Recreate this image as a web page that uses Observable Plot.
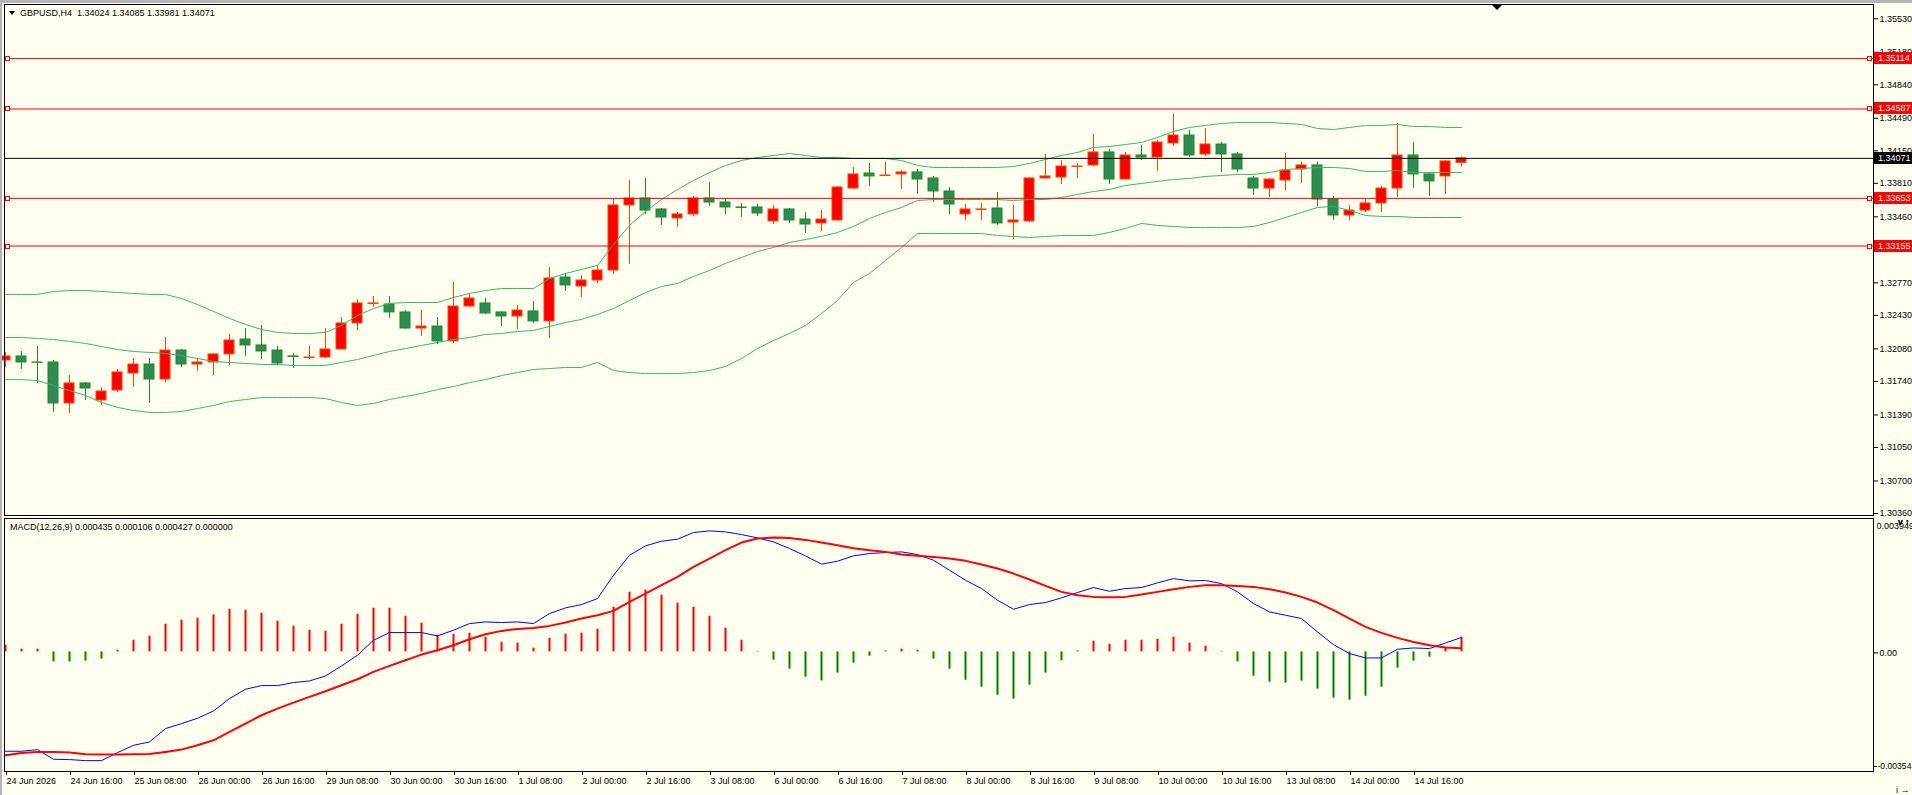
<!DOCTYPE html>
<html><head><meta charset="utf-8">
<script src="https://cdn.jsdelivr.net/npm/d3@7"></script>
<script src="https://cdn.jsdelivr.net/npm/@observablehq/plot@0.6"></script>
<style>
html,body{margin:0;padding:0;background:#fffff0;}
#chart{position:relative;width:1912px;height:795px;overflow:hidden;background:#fffff0;font-family:"Liberation Sans",Arial,sans-serif;}
#chart svg{position:absolute;left:0;}
.hdr{position:absolute;font-size:9px;line-height:12px;color:#000;white-space:pre;}
.tri{position:absolute;width:0;height:0;border-left:3px solid transparent;border-right:3px solid transparent;border-top:4px solid #000;}
</style></head><body><div id="chart"></div>
<script>
// ---- data (GBPUSD H4) ----
const open = [1.31959,1.32001,1.31938,1.31938,1.31510,1.31719,1.31541,1.31645,1.31823,1.31917,1.31760,1.32063,1.31917,1.31938,1.32022,1.32178,1.32116,1.32063,1.32001,1.31985,1.31990,1.32074,1.32346,1.32550,1.32544,1.32461,1.32293,1.32314,1.32158,1.32523,1.32555,1.32461,1.32419,1.32471,1.32367,1.32826,1.32732,1.32795,1.32899,1.33579,1.33652,1.33537,1.33443,1.33485,1.33652,1.33610,1.33558,1.33558,1.33412,1.33537,1.33432,1.33391,1.33422,1.33756,1.33913,1.33887,1.33903,1.33924,1.33861,1.33725,1.33485,1.33532,1.33547,1.33401,1.33412,1.33861,1.33871,1.33981,1.33997,1.34133,1.33850,1.34101,1.34080,1.34227,1.34310,1.34112,1.34216,1.34112,1.33861,1.33756,1.33840,1.33955,1.33997,1.33641,1.33474,1.33526,1.33600,1.33756,1.34101,1.33903,1.33882,1.34024];
const high = [1.32043,1.32053,1.32105,1.31959,1.31802,1.31729,1.31677,1.31865,1.31980,1.31980,1.32199,1.32074,1.31980,1.32032,1.32231,1.32293,1.32325,1.32105,1.32032,1.32105,1.32293,1.32408,1.32596,1.32628,1.32628,1.32481,1.32481,1.32408,1.32774,1.32659,1.32607,1.32466,1.32534,1.32576,1.32931,1.32868,1.32847,1.32952,1.33641,1.33840,1.33861,1.33547,1.33506,1.33673,1.33819,1.33652,1.33600,1.33589,1.33579,1.33547,1.33506,1.33526,1.33777,1.33976,1.34018,1.34028,1.33944,1.33955,1.33882,1.33767,1.33589,1.33600,1.33715,1.33579,1.33871,1.34112,1.34049,1.34018,1.34321,1.34164,1.34133,1.34206,1.34258,1.34530,1.34362,1.34383,1.34237,1.34133,1.33882,1.33861,1.34122,1.34028,1.34028,1.33673,1.33579,1.33652,1.33777,1.34436,1.34237,1.33913,1.34049,1.34085];
const low = [1.31886,1.31865,1.31719,1.31416,1.31405,1.31541,1.31489,1.31625,1.31677,1.31510,1.31729,1.31886,1.31844,1.31802,1.31907,1.32001,1.31969,1.31907,1.31875,1.31969,1.31980,1.32074,1.32272,1.32513,1.32398,1.32288,1.32210,1.32126,1.32137,1.32513,1.32440,1.32314,1.32283,1.32346,1.32189,1.32680,1.32617,1.32764,1.32858,1.32962,1.33485,1.33370,1.33349,1.33464,1.33568,1.33485,1.33453,1.33464,1.33380,1.33391,1.33286,1.33307,1.33412,1.33746,1.33777,1.33882,1.33746,1.33694,1.33610,1.33485,1.33422,1.33422,1.33370,1.33223,1.33401,1.33855,1.33798,1.33861,1.33986,1.33798,1.33845,1.34049,1.33934,1.34195,1.34080,1.34091,1.33924,1.33924,1.33683,1.33662,1.33735,1.33809,1.33568,1.33422,1.33422,1.33506,1.33506,1.33662,1.33756,1.33673,1.33694,1.33981];
const close = [1.32001,1.31938,1.31935,1.31510,1.31719,1.31666,1.31635,1.31834,1.31917,1.31760,1.32063,1.31917,1.31938,1.32022,1.32168,1.32116,1.32053,1.31928,1.31996,1.31990,1.32074,1.32346,1.32555,1.32555,1.32461,1.32293,1.32314,1.32158,1.32523,1.32607,1.32450,1.32419,1.32481,1.32367,1.32816,1.32743,1.32795,1.32899,1.33579,1.33652,1.33526,1.33453,1.33485,1.33652,1.33610,1.33558,1.33553,1.33495,1.33537,1.33422,1.33380,1.33432,1.33767,1.33903,1.33882,1.33892,1.33924,1.33850,1.33725,1.33589,1.33537,1.33537,1.33391,1.33422,1.33861,1.33882,1.33986,1.33986,1.34133,1.33850,1.34101,1.34080,1.34237,1.34310,1.34101,1.34216,1.34112,1.33955,1.33756,1.33850,1.33944,1.33997,1.33641,1.33474,1.33526,1.33600,1.33756,1.34101,1.33903,1.33830,1.34039,1.34071];

const bbUpper = [1.32649,1.32649,1.32649,1.32680,1.32690,1.32690,1.32680,1.32669,1.32659,1.32649,1.32649,1.32607,1.32544,1.32471,1.32398,1.32335,1.32283,1.32252,1.32241,1.32241,1.32252,1.32325,1.32429,1.32502,1.32555,1.32565,1.32565,1.32565,1.32617,1.32659,1.32690,1.32711,1.32711,1.32711,1.32816,1.32868,1.32910,1.32952,1.33171,1.33370,1.33516,1.33641,1.33746,1.33840,1.33923,1.33997,1.34049,1.34080,1.34101,1.34122,1.34101,1.34080,1.34080,1.34070,1.34070,1.34070,1.34049,1.33997,1.33976,1.33976,1.33976,1.33976,1.33976,1.33986,1.34018,1.34059,1.34101,1.34133,1.34185,1.34195,1.34216,1.34237,1.34289,1.34352,1.34394,1.34415,1.34436,1.34446,1.34446,1.34446,1.34436,1.34425,1.34383,1.34373,1.34394,1.34415,1.34415,1.34425,1.34404,1.34404,1.34394,1.34394];
const bbMiddle = [1.32199,1.32199,1.32189,1.32178,1.32158,1.32137,1.32105,1.32074,1.32053,1.32043,1.32032,1.32011,1.31980,1.31949,1.31938,1.31928,1.31917,1.31917,1.31907,1.31907,1.31907,1.31938,1.31969,1.32011,1.32053,1.32084,1.32116,1.32147,1.32178,1.32199,1.32231,1.32241,1.32262,1.32273,1.32314,1.32356,1.32388,1.32440,1.32502,1.32586,1.32669,1.32732,1.32764,1.32837,1.32899,1.32973,1.33035,1.33098,1.33140,1.33192,1.33223,1.33255,1.33297,1.33359,1.33443,1.33506,1.33558,1.33631,1.33641,1.33641,1.33641,1.33641,1.33641,1.33631,1.33641,1.33641,1.33662,1.33694,1.33725,1.33746,1.33788,1.33809,1.33830,1.33850,1.33861,1.33882,1.33892,1.33903,1.33903,1.33923,1.33955,1.33965,1.33976,1.33976,1.33965,1.33934,1.33934,1.33944,1.33923,1.33923,1.33923,1.33923];
const bbLower = [1.31759,1.31759,1.31749,1.31697,1.31645,1.31593,1.31520,1.31468,1.31437,1.31416,1.31416,1.31426,1.31457,1.31489,1.31530,1.31551,1.31572,1.31572,1.31572,1.31572,1.31562,1.31520,1.31489,1.31510,1.31551,1.31583,1.31614,1.31655,1.31686,1.31728,1.31759,1.31801,1.31833,1.31865,1.31875,1.31886,1.31886,1.31938,1.31854,1.31833,1.31822,1.31822,1.31822,1.31833,1.31854,1.31896,1.31980,1.32084,1.32168,1.32241,1.32325,1.32450,1.32586,1.32774,1.32868,1.33004,1.33140,1.33286,1.33286,1.33286,1.33286,1.33286,1.33265,1.33255,1.33244,1.33255,1.33265,1.33265,1.33265,1.33297,1.33338,1.33391,1.33370,1.33359,1.33349,1.33349,1.33349,1.33349,1.33359,1.33401,1.33453,1.33506,1.33558,1.33568,1.33527,1.33474,1.33464,1.33464,1.33453,1.33453,1.33453,1.33453];

const macdMain = [-0.002941,-0.002941,-0.002892,-0.003178,-0.003188,-0.003218,-0.003218,-0.002981,-0.002764,-0.002665,-0.002270,-0.002122,-0.001964,-0.001747,-0.001382,-0.001105,-0.000997,-0.000997,-0.000908,-0.000859,-0.000711,-0.000415,-0.000099,0.000345,0.000572,0.000572,0.000572,0.000474,0.000642,0.000839,0.000888,0.000869,0.000888,0.000839,0.001135,0.001303,0.001402,0.001579,0.002270,0.002862,0.003139,0.003277,0.003336,0.003533,0.003583,0.003553,0.003474,0.003375,0.003257,0.003060,0.002843,0.002596,0.002685,0.002843,0.002912,0.002941,0.002961,0.002882,0.002714,0.002418,0.002122,0.001875,0.001530,0.001263,0.001402,0.001461,0.001599,0.001757,0.001905,0.001796,0.001875,0.001905,0.002043,0.002171,0.002102,0.002112,0.002023,0.001777,0.001431,0.001184,0.001086,0.000987,0.000592,0.000217,-0.000049,-0.000178,-0.000178,0.000079,0.000118,0.000099,0.000266,0.000427];
const macdSignal = [-0.003060,-0.002991,-0.002961,-0.002961,-0.002981,-0.003030,-0.003040,-0.003040,-0.003030,-0.003020,-0.002961,-0.002892,-0.002764,-0.002616,-0.002369,-0.002122,-0.001875,-0.001678,-0.001500,-0.001332,-0.001165,-0.000987,-0.000809,-0.000592,-0.000415,-0.000247,-0.000079,0.000049,0.000197,0.000375,0.000523,0.000622,0.000681,0.000711,0.000770,0.000869,0.000987,0.001086,0.001214,0.001481,0.001727,0.001974,0.002221,0.002517,0.002764,0.003010,0.003237,0.003356,0.003385,0.003375,0.003316,0.003237,0.003158,0.003070,0.003010,0.002961,0.002882,0.002843,0.002813,0.002764,0.002695,0.002586,0.002468,0.002319,0.002142,0.001954,0.001777,0.001678,0.001629,0.001619,0.001629,0.001698,0.001777,0.001856,0.001925,0.001974,0.001974,0.001954,0.001925,0.001856,0.001757,0.001629,0.001461,0.001234,0.000987,0.000740,0.000563,0.000415,0.000296,0.000197,0.000128,0.000106];
const macdHist = [0.000198,0.000080,0.000080,-0.000296,-0.000296,-0.000275,-0.000216,0.000050,0.000346,0.000465,0.000820,0.000938,0.000998,0.001095,0.001264,0.001234,0.001146,0.000909,0.000761,0.000642,0.000613,0.000820,0.001116,0.001294,0.001294,0.001057,0.000850,0.000494,0.000524,0.000554,0.000435,0.000287,0.000258,0.000110,0.000406,0.000524,0.000554,0.000672,0.001323,0.001767,0.001826,0.001678,0.001442,0.001323,0.001057,0.000702,0.000346,0.000015,-0.000246,-0.000512,-0.000749,-0.000858,-0.000630,-0.000334,-0.000127,0.000030,0.000080,0.000050,-0.000216,-0.000512,-0.000838,-0.001045,-0.001282,-0.001400,-0.000986,-0.000630,-0.000266,0.000030,0.000317,0.000228,0.000346,0.000346,0.000376,0.000435,0.000258,0.000169,0.000015,-0.000296,-0.000719,-0.000897,-0.000926,-0.000867,-0.001104,-0.001370,-0.001430,-0.001311,-0.001045,-0.000482,-0.000275,-0.000157,0.000139,0.000435];

const levelPrices = [1.35114, 1.34587, 1.33653, 1.33155];
const priceTicks = [1.35530,1.35180,1.34840,1.34490,1.34150,1.33810,1.33460,1.33120,1.32770,1.32430,1.32080,1.31740,1.31390,1.31050,1.30700,1.30360];
const macdAxisValues = [0.003949, 0, -0.00354];
const macdAxisLabels = ["0.003949", "0.00", "-0.00354"];
const tickBars = [0,4,8,12,16,20,24,28,32,36,40,44,48,52,56,60,64,68,72,76,80,84,88];
const tickLabels = ["24 Jun 2026","24 Jun 16:00","25 Jun 08:00","26 Jun 00:00","26 Jun 16:00","29 Jun 08:00","30 Jun 00:00","30 Jun 16:00","1 Jul 08:00","2 Jul 00:00","2 Jul 16:00","3 Jul 08:00","6 Jul 00:00","6 Jul 16:00","7 Jul 08:00","8 Jul 00:00","8 Jul 16:00","9 Jul 08:00","10 Jul 00:00","10 Jul 16:00","13 Jul 08:00","14 Jul 00:00","14 Jul 16:00"];
const symbolName = "GBPUSD,H4";
const macdName = "MACD(12,26,9)";
const chartShiftBar = 93.25;

// ---- layout / style ----
const W = 1912;
const FONT = "'Liberation Sans', Arial, sans-serif";
const n = open.length;
const xDomain = [-0.0625, 116.75];
const bullFill = "#ff0000", bullStroke = "#ff4500", bearFill = "#2e8b57", bearStroke = "#1e8a1e";
const bandColor = "#3cb371";
const baseStyle = {background: "transparent", fontFamily: FONT, fontSize: "9px", color: "#000", overflow: "visible"};

const bars = open.map((o, i) => ({i, o, h: high[i], l: low[i], c: close[i], up: close[i] >= o}));
const idx = (d, i) => i;
const val = d => d;

const topPlot = Plot.plot({
  width: W, height: 517,
  marginTop: 4, marginRight: 39, marginBottom: 2, marginLeft: 4,
  x: {domain: xDomain, axis: null},
  y: {domain: [1.30339, 1.35679], axis: null},
  style: baseStyle,
  marks: [
    Plot.ruleX(bars, {x: "i", y1: "l", y2: "h", stroke: d => d.up ? bullStroke : bearStroke, strokeWidth: 1}),
    Plot.rect(bars, {x1: d => d.i - 0.3125, x2: d => d.i + 0.3125, y1: "o", y2: "c", fill: d => d.up ? bullFill : bearFill, stroke: d => d.up ? bullStroke : bearStroke, strokeWidth: 1}),
    Plot.line(bbUpper, {x: idx, y: val, stroke: bandColor, strokeWidth: 1}),
    Plot.line(bbMiddle, {x: idx, y: val, stroke: bandColor, strokeWidth: 1}),
    Plot.line(bbLower, {x: idx, y: val, stroke: bandColor, strokeWidth: 1}),
    Plot.ruleY(levelPrices, {stroke: "#ff0000", strokeWidth: 1}),
    Plot.ruleY([close[n - 1]], {stroke: "#000", strokeWidth: 1}),
    Plot.axisY({anchor: "right", ticks: priceTicks, tickFormat: d => d.toFixed(5), tickSize: 4, tickPadding: 2}),
    Plot.frame({stroke: "#000"})
  ]
});
topPlot.style.top = "0px";

const hist = macdHist.map((v, i) => ({i, v}));
const tickLabelOf = new Map(tickBars.map((b, k) => [b, tickLabels[k]]));
const macdPlot = Plot.plot({
  width: W, height: 280,
  marginTop: 3, marginRight: 39, marginBottom: 24, marginLeft: 4,
  x: {domain: xDomain, axis: null},
  y: {domain: [macdAxisValues[2], macdAxisValues[0]], axis: null},
  style: baseStyle,
  marks: [
    Plot.ruleX(hist, {x: "i", y1: 0, y2: "v", stroke: d => d.v >= 0 ? "#ff0000" : "#008000", strokeWidth: 2}),
    Plot.line(macdMain, {x: idx, y: val, stroke: "#0000ff", strokeWidth: 1}),
    Plot.line(macdSignal, {x: idx, y: val, stroke: "#ff0000", strokeWidth: 2}),
    Plot.axisX({ticks: tickBars, tickFormat: d => tickLabelOf.get(d), tickSize: 4, tickPadding: 2, textAnchor: "start", dx: 1}),
    Plot.axisY({anchor: "right", ticks: [macdAxisValues[0]], tickFormat: () => macdAxisLabels[0], tickSize: 0, tickPadding: 3, dy: 8}),
    Plot.axisY({anchor: "right", ticks: [macdAxisValues[1]], tickFormat: () => macdAxisLabels[1], tickSize: 4, tickPadding: 2, dy: 1}),
    Plot.axisY({anchor: "right", ticks: [macdAxisValues[2]], tickFormat: () => macdAxisLabels[2], tickSize: 3, tickPadding: 1, dy: -5, fontSize: 8.6}),
    Plot.frame({stroke: "#000"})
  ]
});
macdPlot.style.top = "515px";

const chart = document.getElementById("chart");
chart.appendChild(topPlot);
chart.appendChild(macdPlot);

// ---- annotations placed through the plot's own scales ----
const ty = topPlot.scale("y"), tx = topPlot.scale("x");
const svgTop = d3.select(topPlot);
const xLeft = tx.range[0], xRight = tx.range[1];
const yTop = ty.range[1];
const tags = levelPrices.map(v => ({v, bg: "#ff0000"})).concat([{v: close[n - 1], bg: "#000000"}]);
for (const t of tags) {
  const y = Math.round(ty.apply(t.v));
  if (t.bg === "#ff0000") {
    for (const sx of [xLeft + 3, xRight - 4]) {
      svgTop.append("rect").attr("x", sx - 2).attr("y", y - 2).attr("width", 4).attr("height", 4)
        .attr("fill", "#fffff0").attr("stroke", "#ff0000").attr("stroke-width", 1).attr("transform", "translate(0.5,0.5)");
    }
  }
  svgTop.append("rect").attr("x", xRight + 1).attr("y", y - 6).attr("width", W - xRight - 1).attr("height", 12).attr("fill", t.bg);
  svgTop.append("text").attr("x", xRight + 5).attr("y", y).attr("dy", "0.35em").attr("fill", "#fff")
    .attr("text-anchor", "start").attr("font-family", FONT).attr("font-size", 9).text(t.v.toFixed(5));
}
const sxm = tx.apply(chartShiftBar);
svgTop.append("path").attr("d", `M${sxm - 5},${yTop + 1}L${sxm + 5},${yTop + 1}L${sxm},${yTop + 6}Z`).attr("fill", "#000");

// ---- header texts ----
function addDiv(cls, left, top, text) {
  const d = document.createElement("div");
  d.className = cls; d.style.left = left + "px"; d.style.top = top + "px";
  if (text != null) d.textContent = text;
  chart.appendChild(d);
  return d;
}
addDiv("tri", 9, 11);
addDiv("hdr", 20, 7, `${symbolName}  ${open[n-1].toFixed(5)} ${high[n-1].toFixed(5)} ${low[n-1].toFixed(5)} ${close[n-1].toFixed(5)}`);
addDiv("hdr", 10, 521, `${macdName} ${macdHist[n-1].toFixed(6)} ${macdSignal[n-1].toFixed(6)} ${macdMain[n-1].toFixed(6)} 0.000000`);
// window edges
const edgeTop = addDiv("", 0, 0); edgeTop.style.cssText += "position:absolute;width:1912px;height:3px;background:#b4b4b4;";
const edgeLeft = addDiv("", 0, 0); edgeLeft.style.cssText += "position:absolute;width:2px;height:795px;background:#b4b4b4;";
</script>
</body></html>
